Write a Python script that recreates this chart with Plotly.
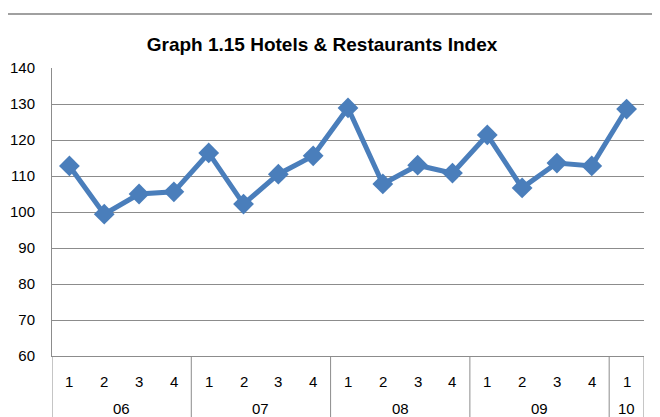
import plotly.graph_objects as go

years = ["06", "07", "08", "09", "10"]
quarters_per_year = [4, 4, 4, 4, 1]
quarters = ["1", "2", "3", "4"] * 4 + ["1"]
index_values = [112.8, 99.4, 105.0, 105.6, 116.4, 102.2, 110.5, 115.6,
                128.9, 107.8, 113.0, 110.8, 121.4, 106.7, 113.6, 112.8, 128.6]
y_ticks = [60, 70, 80, 90, 100, 110, 120, 130, 140]

blue = "#4A7EBB"
grid = "#8C8C8C"
font = "Liberation Sans, Arial, sans-serif"

# page body has an 8px margin; figure is sized to fill the rest of the window
OFF = 8
H, W = 417 - OFF, 660 - OFF
L, R, T, B = 52 - OFF, 16, 68 - OFF, 61
ph = H - T - B
plot_bottom = H - B  # figure px


def py(page_y):
    """page pixel y -> paper coordinate"""
    return (plot_bottom - (page_y - OFF)) / ph


x = list(range(len(index_values)))

fig = go.Figure()
fig.add_trace(go.Scatter(
    x=x, y=index_values, mode="lines+markers",
    line=dict(color=blue, width=5),
    marker=dict(symbol="diamond", size=16, color=blue),
    showlegend=False, cliponaxis=False,
))

fig.update_layout(
    width=W, height=H,
    margin=dict(l=L, r=R, t=T, b=B),
    paper_bgcolor="white", plot_bgcolor="white",
    title=dict(text="<b>Graph 1.15 Hotels & Restaurants Index</b>",
               x=(322 - OFF) / W, xanchor="center", y=1 - (44 - OFF) / H, yanchor="middle",
               font=dict(family=font, size=19, color="black")),
    font=dict(family=font, color="black"),
)
fig.update_xaxes(
    range=[-0.5, len(x) - 0.5], showticklabels=False, showline=True,
    linecolor=grid, linewidth=1, showgrid=False, zeroline=False, ticks="",
)
fig.update_yaxes(
    range=[60, 140], tickvals=y_ticks, showgrid=True, gridcolor=grid, gridwidth=1,
    showline=True, linecolor=grid, linewidth=1, zeroline=False, automargin=False,
    tickfont=dict(size=15, family=font, color="black"), ticks="", ticklabelstandoff=13,
)

# quarter labels
for i, q in enumerate(quarters):
    fig.add_annotation(x=i, y=py(381), xref="x", yref="paper",
                       text=q, showarrow=False, yanchor="middle",
                       font=dict(size=15, family=font, color="black"))
# year labels and dividers
start = -0.5
fig.add_shape(type="line", xref="x", yref="paper", x0=start, x1=start, y0=0, y1=py(430),
              line=dict(color=grid, width=1))
for yr, n in zip(years, quarters_per_year):
    end = start + n
    fig.add_annotation(x=(start + end) / 2, y=py(408), xref="x", yref="paper",
                       text=yr, showarrow=False, yanchor="middle",
                       font=dict(size=15, family=font, color="black"))
    fig.add_shape(type="line", xref="x", yref="paper", x0=end, x1=end, y0=0, y1=py(430),
                  line=dict(color=grid, width=1))
    start = end

fig.add_shape(type="line", xref="paper", yref="paper", x0=-L / (W - L - R), x1=1 + R / (W - L - R) + 0.05,
              y0=py(14), y1=py(14),
              line=dict(color="#A0A0A0", width=2))
fig.write_html("out.html")
